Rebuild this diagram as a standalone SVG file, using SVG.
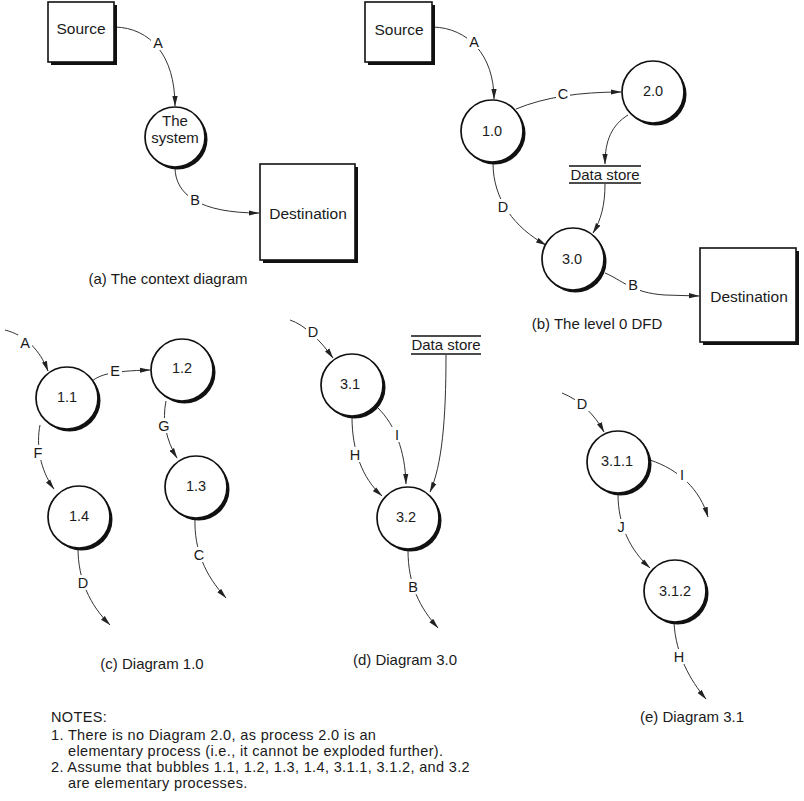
<svg xmlns="http://www.w3.org/2000/svg" width="804" height="801" viewBox="0 0 804 801">
<defs>
<marker id="ah" markerWidth="11" markerHeight="6" refX="10" refY="3" orient="auto" markerUnits="userSpaceOnUse">
<path d="M0,0.4 L10.5,3 L0,5.6 Z" fill="#222"/>
</marker>
</defs>
<style>
text{font-family:"Liberation Sans",Arial,sans-serif;fill:#1a1a1a}
.box{fill:#fff;stroke:#111;stroke-width:1.6}
.bsh{fill:#111}
.bub{fill:#fff;stroke:#111;stroke-width:1.7}
.sh{fill:#111}
.lbl{font-size:15.5px;text-anchor:middle}
.num{font-size:14.5px;text-anchor:middle}
.cap{font-size:15px;text-anchor:middle}
.flow{fill:none;stroke:#333;stroke-width:1;marker-end:url(#ah)}
.gap{fill:#fff}
.fl{font-size:14.5px;text-anchor:middle}
.ds{stroke:#111;stroke-width:1.6}
.dst{font-size:15px;text-anchor:middle}
.note{font-size:14.5px;letter-spacing:0.35px}
</style>
<rect width="804" height="801" fill="#fff"/>

<g id="connectors">
<!-- (a) -->
<path class="flow" d="M115,27 C150,28 175,55 175,106"/>
<path class="flow" d="M175,167 C175,195 200,213 259,213"/>
<!-- (b) -->
<path class="flow" d="M433,27 C468,28 494,55 494,99"/>
<path class="flow" d="M516,109 C545,97 580,92 621,92"/>
<path class="flow" d="M628,115 C612,125 605,140 605,164"/>
<path class="flow" d="M605,184 C605,205 601,220 593,233"/>
<path class="flow" d="M493,163 C493,200 515,228 546,245"/>
<path class="flow" d="M605,273 C622,280 632,293 665,295 L699,296"/>
<!-- (c) -->
<path class="flow" d="M5,330 C25,335 40,350 48,371"/>
<path class="flow" d="M92,381 C100,375 110,371 150,370"/>
<path class="flow" d="M40,425 C36,445 40,470 54,489"/>
<path class="flow" d="M166,401 C162,420 166,440 177,458"/>
<path class="flow" d="M195,518 C194,550 205,575 226,598"/>
<path class="flow" d="M78,548 C78,580 90,605 110,625"/>
<!-- (d) -->
<path class="flow" d="M290,320 C305,325 320,340 333,358"/>
<path class="flow" d="M352,417 C352,450 362,478 382,496"/>
<path class="flow" d="M378,408 C395,425 405,450 406,484"/>
<path class="flow" d="M446,355 C446,420 442,465 430,492"/>
<path class="flow" d="M408,550 C408,585 420,608 438,628"/>
<!-- (e) -->
<path class="flow" d="M562,393 C580,400 595,415 604,432"/>
<path class="flow" d="M650,460 C680,470 700,490 708,517"/>
<path class="flow" d="M618,494 C618,525 630,550 650,568"/>
<path class="flow" d="M674,623 C676,655 690,680 706,699"/>

<!-- label gaps -->
<rect class="gap" x="151" y="35" width="14" height="15"/>
<rect class="gap" x="188" y="192" width="14" height="15"/>
<rect class="gap" x="467" y="34" width="14" height="15"/>
<rect class="gap" x="556" y="86" width="14" height="15"/>
<rect class="gap" x="496" y="199" width="14" height="15"/>
<rect class="gap" x="626" y="277" width="14" height="15"/>
<rect class="gap" x="18" y="335" width="14" height="15"/>
<rect class="gap" x="108" y="363" width="14" height="15"/>
<rect class="gap" x="32" y="445" width="12" height="15"/>
<rect class="gap" x="157" y="418" width="14" height="15"/>
<rect class="gap" x="192" y="547" width="14" height="15"/>
<rect class="gap" x="76" y="575" width="14" height="15"/>
<rect class="gap" x="306" y="324" width="14" height="15"/>
<rect class="gap" x="348" y="447" width="14" height="15"/>
<rect class="gap" x="392" y="427" width="10" height="15"/>
<rect class="gap" x="406" y="579" width="14" height="15"/>
<rect class="gap" x="575" y="396" width="14" height="15"/>
<rect class="gap" x="677" y="467" width="10" height="15"/>
<rect class="gap" x="615" y="519" width="12" height="15"/>
<rect class="gap" x="672" y="649" width="14" height="15"/>

<text class="fl" x="158" y="48">A</text>
<text class="fl" x="195" y="205">B</text>
<text class="fl" x="474" y="47">A</text>
<text class="fl" x="563" y="99">C</text>
<text class="fl" x="503" y="212">D</text>
<text class="fl" x="633" y="290">B</text>
<text class="fl" x="25" y="348">A</text>
<text class="fl" x="115" y="376">E</text>
<text class="fl" x="38" y="458">F</text>
<text class="fl" x="164" y="431">G</text>
<text class="fl" x="199" y="560">C</text>
<text class="fl" x="83" y="588">D</text>
<text class="fl" x="313" y="337">D</text>
<text class="fl" x="355" y="460">H</text>
<text class="fl" x="397" y="440">I</text>
<text class="fl" x="413" y="592">B</text>
<text class="fl" x="582" y="409">D</text>
<text class="fl" x="682" y="480">I</text>
<text class="fl" x="621" y="532">J</text>
<text class="fl" x="679" y="662">H</text>
</g>

<!-- (a) context diagram -->
<g id="a-source">
<rect class="bsh" x="51" y="5" width="66" height="60"/>
<rect class="box" x="48" y="2" width="66" height="60"/>
<text class="lbl" x="81" y="34">Source</text>
</g>
<g id="a-system">
<circle class="sh" cx="177.5" cy="139.5" r="30"/>
<circle class="bub" cx="175" cy="137" r="30"/>
<text class="cap" x="175" y="126">The</text>
<text class="cap" x="175" y="143">system</text>
</g>
<g id="a-destination">
<rect class="bsh" x="263" y="167" width="95" height="96"/>
<rect class="box" x="260" y="164" width="95" height="96"/>
<text class="lbl" x="308" y="219">Destination</text>
</g>
<text class="cap" x="168" y="284">(a) The context diagram</text>

<!-- (b) level 0 DFD -->
<g id="b-source">
<rect class="bsh" x="368" y="5" width="67" height="60"/>
<rect class="box" x="365" y="2" width="67" height="60"/>
<text class="lbl" x="399" y="35">Source</text>
</g>
<g id="b-p1">
<circle class="sh" cx="494.5" cy="133.5" r="31"/>
<circle class="bub" cx="492" cy="131" r="31"/>
<text class="num" x="492" y="136">1.0</text>
</g>
<g id="b-p2">
<circle class="sh" cx="655.5" cy="94.5" r="31"/>
<circle class="bub" cx="653" cy="92" r="31"/>
<text class="num" x="653" y="96">2.0</text>
</g>
<g id="b-p3">
<circle class="sh" cx="575.5" cy="261.5" r="31"/>
<circle class="bub" cx="573" cy="259" r="31"/>
<text class="num" x="572" y="264">3.0</text>
</g>
<g id="b-datastore">
<line class="ds" x1="569" y1="166" x2="641" y2="166"/>
<line class="ds" x1="569" y1="183" x2="641" y2="183"/>
<text class="dst" x="605" y="180">Data store</text>
</g>
<g id="b-destination">
<rect class="bsh" x="703" y="251" width="96" height="94"/>
<rect class="box" x="700" y="248" width="96" height="94"/>
<text class="lbl" x="749" y="302">Destination</text>
</g>
<text class="cap" x="597" y="329">(b) The level 0 DFD</text>

<!-- (c) Diagram 1.0 -->
<g id="c-p11">
<circle class="sh" cx="69.5" cy="400.5" r="31"/>
<circle class="bub" cx="67" cy="398" r="31"/>
<text class="num" x="67" y="402">1.1</text>
</g>
<g id="c-p12">
<circle class="sh" cx="184.5" cy="372.5" r="31"/>
<circle class="bub" cx="182" cy="370" r="31"/>
<text class="num" x="182" y="373">1.2</text>
</g>
<g id="c-p13">
<circle class="sh" cx="198.5" cy="489.5" r="31"/>
<circle class="bub" cx="196" cy="487" r="31"/>
<text class="num" x="196" y="491">1.3</text>
</g>
<g id="c-p14">
<circle class="sh" cx="81.5" cy="519.5" r="31"/>
<circle class="bub" cx="79" cy="517" r="31"/>
<text class="num" x="79" y="521">1.4</text>
</g>
<text class="cap" x="152" y="669">(c) Diagram 1.0</text>

<!-- (d) Diagram 3.0 -->
<g id="d-p31">
<circle class="sh" cx="354.5" cy="387.5" r="31"/>
<circle class="bub" cx="352" cy="385" r="31"/>
<text class="num" x="350" y="389">3.1</text>
</g>
<g id="d-p32">
<circle class="sh" cx="410.5" cy="520.5" r="31"/>
<circle class="bub" cx="408" cy="518" r="31"/>
<text class="num" x="406" y="522">3.2</text>
</g>
<g id="d-datastore">
<line class="ds" x1="411" y1="336" x2="481" y2="336"/>
<line class="ds" x1="411" y1="354" x2="481" y2="354"/>
<text class="dst" x="446" y="350">Data store</text>
</g>
<text class="cap" x="405" y="665">(d) Diagram 3.0</text>

<!-- (e) Diagram 3.1 -->
<g id="e-p311">
<circle class="sh" cx="620.5" cy="464.5" r="31"/>
<circle class="bub" cx="618" cy="462" r="31"/>
<text class="num" x="617" y="466">3.1.1</text>
</g>
<g id="e-p312">
<circle class="sh" cx="677.5" cy="593.5" r="31"/>
<circle class="bub" cx="675" cy="591" r="31"/>
<text class="num" x="675" y="596">3.1.2</text>
</g>
<text class="cap" x="692" y="722">(e) Diagram 3.1</text>

<!-- Notes -->
<g id="notes">
<text class="note" x="51" y="722">NOTES:</text>
<text class="note" x="51" y="739.5">1. There is no Diagram 2.0, as process 2.0 is an</text>
<text class="note" x="68" y="755.8">elementary process (i.e., it cannot be exploded further).</text>
<text class="note" x="51" y="772.1">2. Assume that bubbles 1.1, 1.2, 1.3, 1.4, 3.1.1, 3.1.2, and 3.2</text>
<text class="note" x="68" y="788.4">are elementary processes.</text>
</g>
</svg>
